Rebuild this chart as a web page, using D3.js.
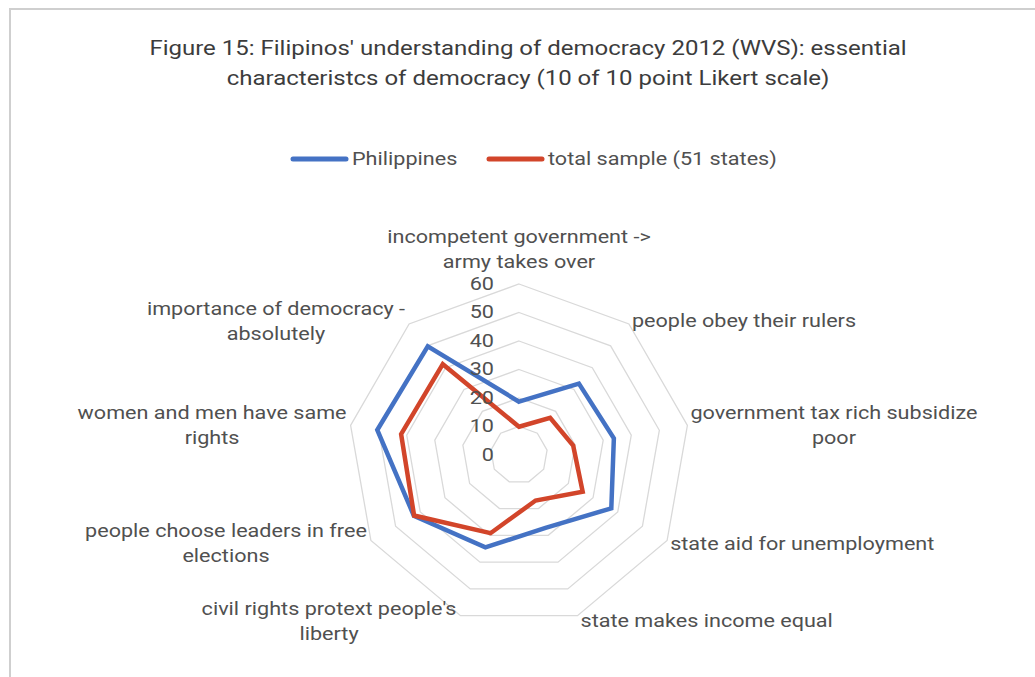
<!DOCTYPE html>
<html>
<head>
<meta charset="utf-8">
<script src="https://cdn.jsdelivr.net/npm/d3@7"></script>
<style>
  html, body { margin: 0; padding: 0; background: #ffffff; }
  svg { display: block; font-family: Roboto, "Noto Sans", sans-serif; }
</style>
</head>
<body>
<svg id="chart" width="1035" height="677"></svg>
<script>
// ---- data ----
const titleLines = [
  "Figure 15: Filipinos' understanding of democracy 2012 (WVS): essential",
  "characteristcs of democracy (10 of 10 point Likert scale)"
];
const categories = [
  "incompetent government ->|army takes over",
  "people obey their rulers",
  "government tax rich subsidize|poor",
  "state aid for unemployment",
  "state makes income equal",
  "civil rights protext people's|liberty",
  "people choose leaders in free|elections",
  "women and men have same|rights",
  "importance of democracy -|absolutely"
];
const seriesNames = ["Philippines", "total sample (51 states)"];
const philippines = [18.7, 32.7, 33.8, 37.4, 27.2, 34.5, 42.6, 50.5, 49.8];
const totalSample = [9.9, 17.0, 19.3, 25.8, 17.0, 29.2, 42.5, 42.0, 41.6];
const tickValues = [0, 10, 20, 30, 40, 50, 60];
const seriesColors = ["#4472C4", "#D2452A"];

// ---- layout ----
const svg = d3.select("#chart");
const W = 1035, H = 677;
const cx = 519, cy = 455, R = 171;
const textColor = "#505050";
const SX = 1.2; // horizontal stretch of the original picture's text

function stretchedText(parent, x, y, anchor, size, color, str) {
  return parent.append("text")
    .attr("transform", `translate(${x},${y}) scale(${SX},1)`)
    .attr("text-anchor", anchor).attr("dominant-baseline", "central")
    .attr("font-size", size).attr("fill", color)
    .text(str);
}

// frame
svg.append("path")
  .attr("d", `M10,${H} L10,9 L${W},9`)
  .attr("fill", "none").attr("stroke", "#cfcfcf").attr("stroke-width", 2);

// title
titleLines.forEach((l, i) => stretchedText(svg, 528, 48 + i * 30, "middle", 20, "#3c3c3c", l));

// legend
const legendItems = [
  { name: seriesNames[0], color: seriesColors[0], x: 293 },
  { name: seriesNames[1], color: seriesColors[1], x: 489 }
];
legendItems.forEach(it => {
  svg.append("line").attr("x1", it.x).attr("x2", it.x + 53)
    .attr("y1", 159).attr("y2", 159)
    .attr("stroke", it.color).attr("stroke-width", 5).attr("stroke-linecap", "round");
  stretchedText(svg, it.x + 59, 159, "start", 18, textColor, it.name);
});

// scales
const n = categories.length;
const angle = d3.scaleLinear().domain([0, n]).range([0, 2 * Math.PI]);
const r = d3.scaleLinear().domain([0, 60]).range([0, R]);
const pt = (i, v) => [cx + r(v) * Math.sin(angle(i)), cy - r(v) * Math.cos(angle(i))];

// grid rings
const g = svg.append("g");
g.selectAll("path.ring").data(tickValues.filter(t => t > 0)).join("path")
  .attr("class", "ring")
  .attr("d", t => d3.line()(d3.range(n).map(i => pt(i, t))) + "Z")
  .attr("fill", "none").attr("stroke", "#d9d9d9").attr("stroke-width", 1.3);

// series lines
const radial = d3.line().curve(d3.curveLinearClosed);
[philippines, totalSample].forEach((vals, s) => {
  g.append("path")
    .attr("d", radial(vals.map((v, i) => pt(i, v))))
    .attr("fill", "none").attr("stroke", seriesColors[s])
    .attr("stroke-width", 4.5).attr("stroke-linejoin", "miter");
});

// tick labels
tickValues.forEach(t => stretchedText(g, cx - 25, cy - r(t), "end", 18, textColor, t));

// category labels
const lineH = 25;
categories.forEach((c, i) => {
  const lines = c.split("|");
  const a = angle(i);
  const s = Math.sin(a), co = Math.cos(a);
  const [vx, vy] = pt(i, 60);
  const probe = g.append("text").attr("font-size", 18);
  const widths = lines.map(l => { probe.text(l); return probe.node().getComputedTextLength() * SX; });
  probe.remove();
  const bw = Math.max(...widths);
  let bx, yc;
  if (Math.abs(s) < 0.1) {
    bx = vx;
    yc = vy - 9 - (lines.length * lineH) / 2;
  } else {
    bx = s > 0 ? vx + 3 + bw / 2 : vx - 4 - bw / 2;
    yc = vy - 5 * co + 1;
  }
  lines.forEach((l, k) => {
    stretchedText(g, bx, yc + (k - (lines.length - 1) / 2) * lineH, "middle", 18, textColor, l);
  });
});
</script>
</body>
</html>
